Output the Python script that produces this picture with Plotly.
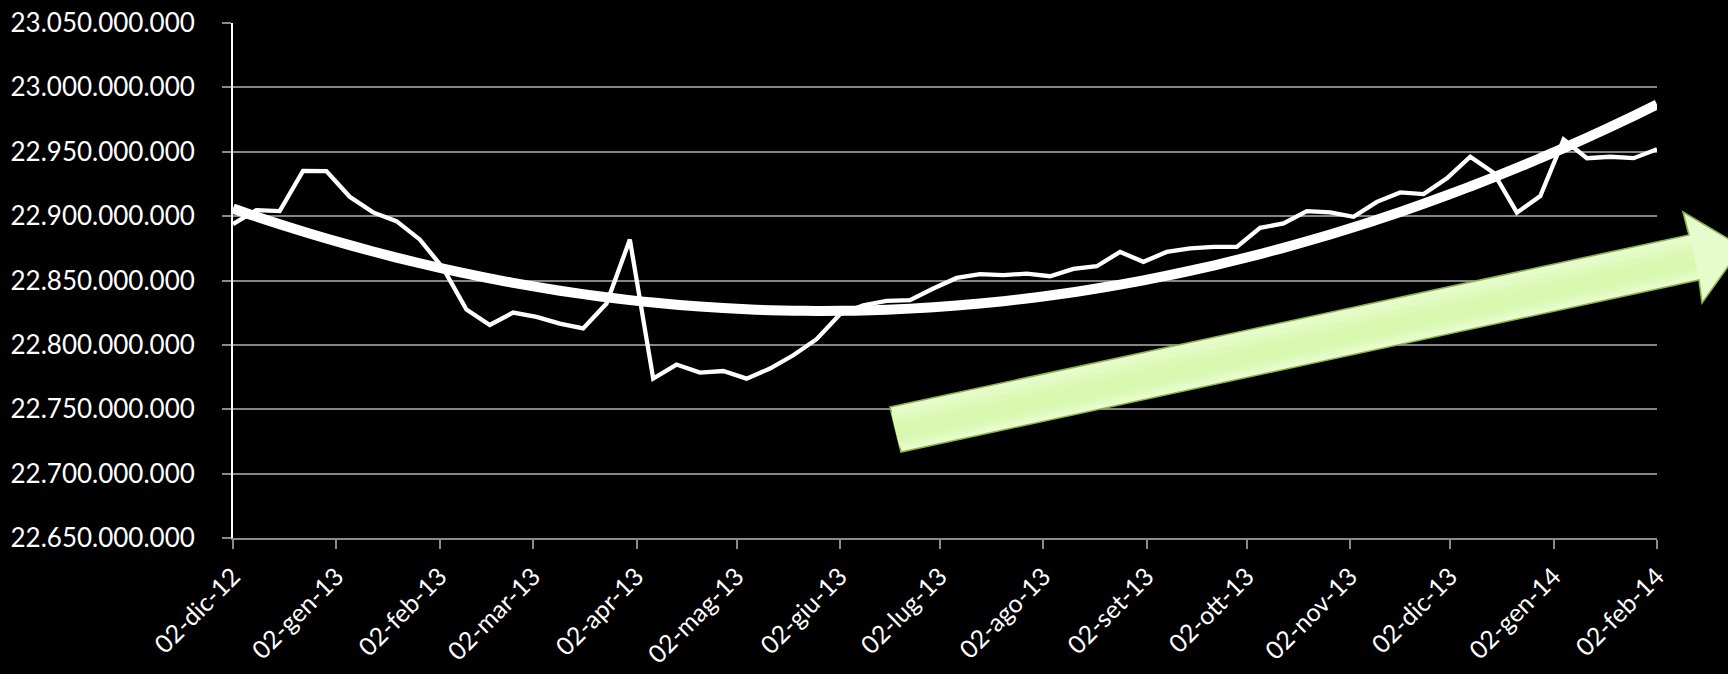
import numpy as np
import pandas as pd
import plotly.graph_objects as go

# ---- data (weekly values) ----
start_date = "2012-12-02"
n_weeks = 62
values = [
    22893.8, 22904.7, 22903.9, 22935.2, 22935.0, 22915.0, 22902.9, 22896.1, 22881.9, 22859.6,
    22827.5, 22815.5, 22825.1, 22821.7, 22816.5, 22812.8, 22832.1, 22881.8, 22773.8, 22784.7,
    22778.5, 22779.7, 22773.8, 22781.6, 22791.9, 22804.4, 22823.8, 22830.8, 22834.1, 22834.7,
    22843.8, 22852.0, 22854.9, 22854.1, 22855.4, 22853.3, 22859.0, 22861.1, 22872.2, 22864.5,
    22872.2, 22874.9, 22876.1, 22876.1, 22890.9, 22894.3, 22903.9, 22902.9, 22899.5, 22911.1,
    22918.4, 22917.1, 22929.3, 22946.1, 22933.7, 22902.7, 22915.6, 22959.5, 22945.0, 22946.1,
    22945.0, 22951.9,
]  # millions
tick_dates = ["2012-12-02", "2013-01-02", "2013-02-02", "2013-03-02", "2013-04-02", "2013-05-02",
              "2013-06-02", "2013-07-02", "2013-08-02", "2013-09-02", "2013-10-02", "2013-11-02",
              "2013-12-02", "2014-01-02", "2014-02-02"]
tick_labels = ["02-dic-12", "02-gen-13", "02-feb-13", "02-mar-13", "02-apr-13", "02-mag-13",
               "02-giu-13", "02-lug-13", "02-ago-13", "02-set-13", "02-ott-13", "02-nov-13",
               "02-dic-13", "02-gen-14", "02-feb-14"]
y_min, y_max, y_step = 22650e6, 23050e6, 50e6

dates = pd.date_range(start_date, periods=n_weeks, freq="7D")
y = np.array(values) * 1e6

# polynomial (order 2) trendline, as in the original spreadsheet chart
days = (dates - dates[0]).days.values.astype(float)
coef = np.polyfit(days, y, 2)
trend = np.polyval(coef, days)

# ---- layout geometry (pixels) ----
W, H = 1728, 674
ML, MR, MT, MB = 233, 71, 23, 136
PW, PH = W - ML - MR, H - MT - MB

def px(x, yy):
    return (x - ML) / PW, (H - MB - yy) / PH

def path(pts):
    s = ""
    for i, (a, b) in enumerate(pts):
        X, Y = px(a, b)
        s += ("M" if i == 0 else "L") + f"{X:.5f},{Y:.5f} "
    return s + "Z"

FONT = "Lato"
fig = go.Figure()
fig.add_trace(go.Scatter(x=dates, y=trend, mode="lines", line=dict(color="white", width=10),
                         line_shape="spline", hoverinfo="skip"))
fig.add_trace(go.Scatter(x=dates, y=y, mode="lines", line=dict(color="white", width=4.3)))

# big green arrow (decoration)
A, B = (890, 407), (901, 452)
C, D, T, E, F = (1689, 235), (1683, 212), (1742, 247), (1702, 303), (1699, 280)
arrow_outer = [A, C, D, T, E, F, B]
shapes = [dict(type="path", xref="paper", yref="paper", path=path(arrow_outer),
               fillcolor="#e6fccc", line=dict(color="#8db24c", width=1.6), layer="above")]

def lerp(p, q, t):
    return (p[0] + (q[0] - p[0]) * t, p[1] + (q[1] - p[1]) * t)

def band(f0, f1):
    return [lerp(A, B, f0), lerp(C, F, f0), lerp(C, F, f1), lerp(A, B, f1)]

# inner bands to suggest the soft light-green gradient
for (f0, f1, col) in [(0.12, 0.9, "#e2fbc2"), (0.25, 0.82, "#ddf9b8"),
                      (0.38, 0.74, "#d9f8b0")]:
    shapes.append(dict(type="path", xref="paper", yref="paper", path=path(band(f0, f1)),
                       fillcolor=col, line=dict(width=0), layer="above"))

fig.update_layout(
    width=W, height=H,
    margin=dict(l=ML, r=MR, t=MT, b=MB, pad=0, autoexpand=False),
    paper_bgcolor="black", plot_bgcolor="black",
    showlegend=False,
    separators=",.",
    font=dict(family=FONT, color="white", size=26),
    shapes=shapes,
    xaxis=dict(type="date", range=[dates[0], dates[-1]], tickvals=tick_dates, ticktext=tick_labels,
               tickangle=-45, ticks="outside", ticklen=9, tickcolor="#8a8a8a", tickwidth=1.5,
               showgrid=False, showline=True, linecolor="#8a8a8a", linewidth=2,
               ticklabelstandoff=3, automargin=False,
               tickfont=dict(family=FONT, size=25, color="white"), zeroline=False),
    yaxis=dict(range=[y_min, y_max], tick0=y_min, dtick=y_step, tickformat=",d",
               ticks="outside", ticklen=9, tickcolor="#8a8a8a", tickwidth=1.5,
               showgrid=True, gridcolor="#858585", gridwidth=1.5,
               showline=True, linecolor="white", linewidth=2, zeroline=False,
               ticklabelstandoff=22, automargin=False,
               tickfont=dict(family=FONT, size=26, color="white")),
)
fig.write_html("out.html")
